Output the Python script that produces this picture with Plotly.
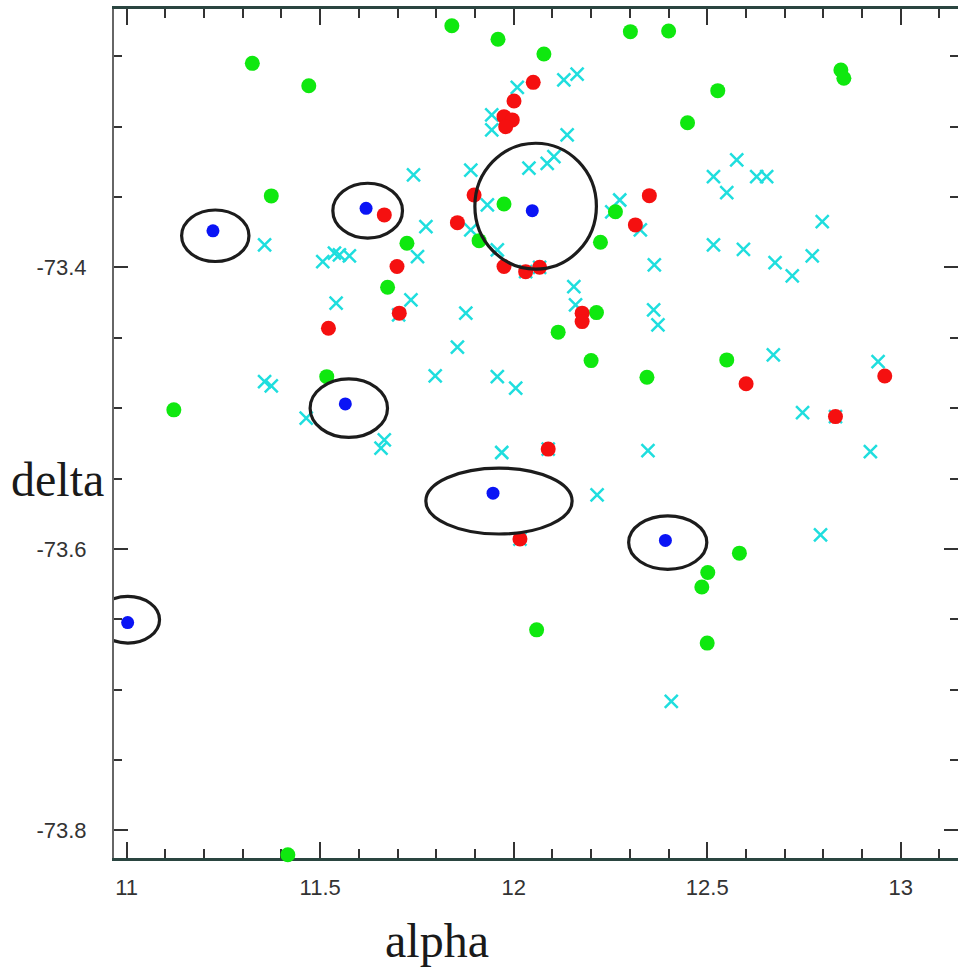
import plotly.graph_objects as go

# ---- data (alpha, delta) ----
green_alpha = [11.3247, 11.4706, 11.3737, 11.8402, 11.9595, 12.0781, 12.3015, 12.4003, 12.5273, 12.4492,
               12.8454, 12.8531, 11.9750, 11.9106, 12.2242, 12.2629, 11.7242, 11.6742, 12.2139, 12.1149,
               12.2000, 11.5170, 12.5505, 12.3443, 11.1219, 12.5832, 12.5015, 12.4861, 12.5000, 12.0593,
               11.4165]
green_delta = [-73.2550, -73.2709, -73.3492, -73.2283, -73.2379, -73.2484, -73.2325, -73.2320, -73.2744, -73.2972,
               -73.2597, -73.2656, -73.3549, -73.3810, -73.3821, -73.3604, -73.3828, -73.4141, -73.4321, -73.4460,
               -73.4662, -73.4776, -73.4657, -73.4780, -73.5012, -73.6030, -73.6168, -73.6271, -73.6669, -73.6575,
               -73.8173]

red_alpha = [12.0505, 12.0008, 11.9750, 11.9964, 11.9794, 11.8977, 11.8546, 11.9750, 12.0309, 12.0670,
             11.6657, 11.6985, 11.7044, 11.5214, 12.1768, 12.1768, 12.3144, 12.3505, 12.6005, 12.9588,
             12.8314, 12.0892, 12.0162]
red_delta = [-73.2685, -73.2818, -73.2929, -73.2952, -73.3000, -73.3485, -73.3682, -73.3994, -73.4030, -73.3999,
             -73.3627, -73.3994, -73.4325, -73.4432, -73.4325, -73.4385, -73.3698, -73.3490, -73.4827, -73.4771,
             -73.5060, -73.5291, -73.5930]

cyan_alpha = [11.3564, 12.0093, 12.1296, 12.1639, 11.9433, 11.9433, 12.1381, 12.0394, 12.0866, 12.1039,
              11.8892, 11.9320, 11.8892, 11.9577, 12.1554, 12.2740, 12.3273, 11.7412, 11.7732, 11.7515,
              11.5067, 11.5369, 11.5497, 11.5755, 11.5412, 11.7345, 11.8763, 12.5763, 12.5162, 12.5505,
              12.6279, 12.6536, 12.7972, 12.5162, 12.5936, 12.6753, 12.7198, 12.7714, 12.3634, 12.3616,
              12.3727, 12.6709, 12.9415, 12.7464, 12.3469, 12.9216, 12.7928, 12.4072, 11.8546, 11.7972,
              11.9577, 12.0052, 11.4639, 11.6657, 11.6572, 11.9691, 12.2155, 11.3564, 11.3737, 12.1598,
              11.7027, 12.0892, 12.0162, 12.8314, 12.0670, 12.0309, 12.2534]
cyan_delta = [-73.3840, -73.2720, -73.2668, -73.2626, -73.2917, -73.3023, -73.3059, -73.3295, -73.3260, -73.3213,
              -73.3308, -73.3556, -73.3734, -73.3876, -73.4136, -73.3521, -73.3734, -73.3343, -73.3710, -73.3923,
              -73.3959, -73.3899, -73.3911, -73.3918, -73.4254, -73.4231, -73.4325, -73.3236, -73.3355, -73.3469,
              -73.3355, -73.3355, -73.3675, -73.3840, -73.3871, -73.3966, -73.4060, -73.3918, -73.3982, -73.4302,
              -73.4408, -73.4621, -73.4669, -73.5031, -73.5301, -73.5308, -73.5900, -73.7084, -73.4567, -73.4771,
              -73.4776, -73.4858, -73.5071, -73.5225, -73.5284, -73.5315, -73.5616, -73.4811, -73.4842, -73.4266,
              -73.4337, -73.5291, -73.5930, -73.5060, -73.3999, -73.4030, -73.3606]

blue_alpha = [11.2230, 11.6186, 12.0480, 11.5650, 11.9466, 12.3920, 11.0026]
blue_delta = [-73.3740, -73.3580, -73.3597, -73.4970, -73.5604, -73.5940, -73.6523]

# error ellipses: centre and half-axes
ell_alpha = [11.229, 11.6227, 12.0567, 11.574, 11.962, 12.398, 11.003]
ell_delta = [-73.3775, -73.3597, -73.3565, -73.5000, -73.5660, -73.5955, -73.6503]
ell_ha = [0.087, 0.090, 0.157, 0.100, 0.189, 0.101, 0.082]
ell_hd = [0.0183, 0.0195, 0.0447, 0.0208, 0.0234, 0.0190, 0.0166]

x_ticks = [11, 11.5, 12, 12.5, 13]
x_labels = ["11", "11.5", "12", "12.5", "13"]
y_ticks = [-73.8, -73.6, -73.4]
y_labels = ["-73.8", "-73.6", "-73.4"]

x_range = [10.9673, 13.148]
y_range = [-73.8196, -73.2164]

fig = go.Figure()
fig.add_trace(go.Scatter(x=cyan_alpha, y=cyan_delta, mode="markers",
                         marker=dict(symbol="x-thin", size=13, color="#1fdede",
                                     line=dict(color="#1fdede", width=2.5)),
                         showlegend=False, hoverinfo="skip"))
fig.add_trace(go.Scatter(x=green_alpha, y=green_delta, mode="markers", cliponaxis=False,
                         marker=dict(symbol="circle", size=15, color="#0fe80f"),
                         showlegend=False, hoverinfo="skip"))
fig.add_trace(go.Scatter(x=red_alpha, y=red_delta, mode="markers",
                         marker=dict(symbol="circle", size=15, color="#f51010"),
                         showlegend=False, hoverinfo="skip"))
fig.add_trace(go.Scatter(x=blue_alpha, y=blue_delta, mode="markers",
                         marker=dict(symbol="circle", size=13, color="#0a14f5"),
                         showlegend=False, hoverinfo="skip"))
# dummy trace on right-hand tick axis
fig.add_trace(go.Scatter(x=[None], y=[None], yaxis="y2", showlegend=False, hoverinfo="skip"))

for ca, cd, ha, hd in zip(ell_alpha, ell_delta, ell_ha, ell_hd):
    fig.add_shape(type="circle", xref="x", yref="y",
                  x0=ca - ha, x1=ca + ha, y0=cd - hd, y1=cd + hd,
                  line=dict(color="#1c1c1c", width=3.2), layer="above")

tickfont = dict(family="Liberation Sans, Arial, sans-serif", size=22, color="#333333")

fig.update_layout(
    width=958, height=969,
    margin=dict(l=114, r=0, t=9, b=111),
    paper_bgcolor="white", plot_bgcolor="white",
    xaxis=dict(range=x_range, tickmode="array", tickvals=x_ticks, ticktext=x_labels,
               ticks="inside", ticklen=16, tickwidth=2, tickcolor="#333333",
               minor=dict(tickmode="linear", tick0=11, dtick=0.1, ticks="inside", ticklen=9,
                          tickwidth=2, tickcolor="#333333", showgrid=False),
               showline=True, linecolor="#2a4540", linewidth=3, mirror="ticks",
               showgrid=False, zeroline=False, tickfont=tickfont, ticklabelstandoff=8,
               layer="below traces"),
    yaxis=dict(range=y_range, tickmode="array", tickvals=y_ticks, ticktext=y_labels,
               ticks="inside", ticklen=14, tickwidth=2, tickcolor="#333333",
               minor=dict(tickmode="linear", tick0=-73.8, dtick=0.05, ticks="inside", ticklen=8,
                          tickwidth=2, tickcolor="#333333", showgrid=False),
               showline=True, linecolor="#666666", linewidth=2, mirror=False,
               showgrid=False, zeroline=False, tickfont=tickfont, ticklabelstandoff=21,
               layer="below traces"),
    yaxis2=dict(range=y_range, overlaying="y", side="right", tickmode="array", tickvals=y_ticks,
                ticks="inside", ticklen=14, tickwidth=2, tickcolor="#333333",
                minor=dict(tickmode="linear", tick0=-73.8, dtick=0.05, ticks="inside", ticklen=8,
                           tickwidth=2, tickcolor="#333333", showgrid=False),
                showline=False, showgrid=False, zeroline=False, showticklabels=False),
    annotations=[
        dict(text="delta", xref="paper", yref="paper", x=-0.0669, y=0.4457,
             xanchor="center", yanchor="middle", showarrow=False,
             font=dict(family="Liberation Serif, Times New Roman, serif", size=48, color="#1a1a1a")),
        dict(text="alpha", xref="paper", yref="paper", x=0.3823, y=-0.0968,
             xanchor="center", yanchor="middle", showarrow=False,
             font=dict(family="Liberation Serif, Times New Roman, serif", size=48, color="#1a1a1a")),
    ],
)

fig.write_html("out.html", config={"displayModeBar": False},
               post_script="document.body.style.margin='0';document.body.style.overflow='hidden';")
